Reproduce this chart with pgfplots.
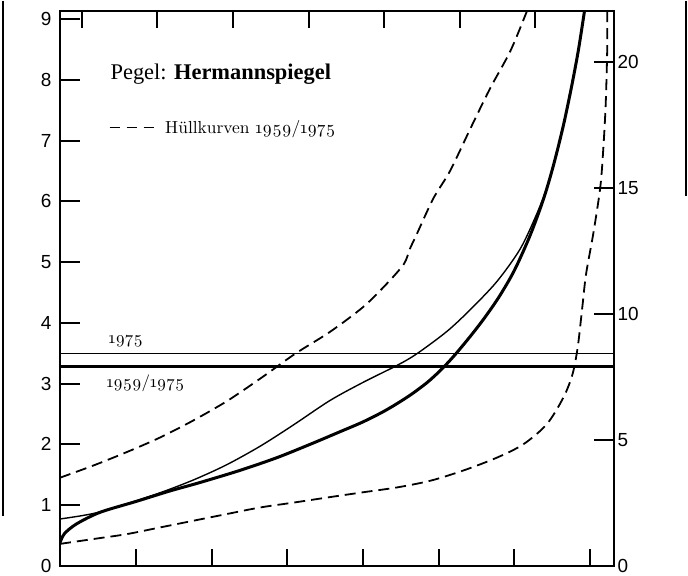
\documentclass[border=0pt]{standalone}
\usepackage{fontspec}
\usepackage{pgfplots}
\pgfplotsset{compat=1.18}

\newfontfamily\tickfont{Liberation Sans}
\newfontfamily\titlefont{Liberation Serif}
\newfontfamily\osfont{lmroman10-regular.otf}[Numbers=OldStyle]

% Thick curve: 1959/1975
\pgfplotstableread{
x y
-0.01 0.38
0.05 0.53
0.21 0.69
0.52 0.88
1.00 1.06
1.44 1.23
1.84 1.37
2.37 1.57
2.86 1.78
3.30 2.00
3.70 2.21
4.00 2.37
4.30 2.56
4.60 2.79
4.85 3.02
5.05 3.25
5.22 3.48
5.42 3.78
5.60 4.07
5.80 4.43
6.00 4.86
6.21 5.44
6.39 6.05
6.52 6.60
6.65 7.25
6.76 7.90
6.85 8.50
6.93 9.14
}\thickcurve

% Thin curve: 1975
\pgfplotstableread{
x y
-0.01 0.77
0.43 0.86
0.87 1.02
1.31 1.20
1.75 1.41
2.19 1.66
2.64 1.97
3.08 2.32
3.56 2.72
4.00 3.02
4.45 3.30
4.71 3.49
5.11 3.86
5.42 4.22
5.77 4.68
6.08 5.22
6.30 5.80
6.43 6.22
6.52 6.60
}\thincurve

% Upper envelope
\pgfplotstableread{
x y
-0.01 1.45
0.43 1.65
0.87 1.87
1.31 2.11
1.75 2.39
2.21 2.72
2.66 3.10
3.10 3.49
3.56 3.85
4.00 4.26
4.31 4.64
4.54 4.97
4.62 5.22
4.71 5.46
4.93 6.05
5.15 6.50
5.42 7.20
5.68 7.86
5.95 8.48
6.17 9.14
}\upperenv

% Lower envelope
\pgfplotstableread{
x y
-0.01 0.36
0.43 0.44
0.87 0.52
1.31 0.63
1.75 0.74
2.19 0.85
2.64 0.96
3.08 1.04
3.56 1.13
4.00 1.21
4.45 1.29
4.89 1.40
5.33 1.57
5.77 1.78
6.12 2.00
6.43 2.33
6.65 2.77
6.77 3.15
6.84 3.60
6.90 4.25
6.95 4.80
7.05 5.50
7.14 6.25
7.18 6.90
7.21 7.60
7.23 8.50
7.23 9.14
}\lowerenv

\begin{document}
\begin{tikzpicture}
\pgfplotsset{
  frame/.style={
    at={(0,0)}, anchor=south west, scale only axis,
    width=554bp, height=555bp,
    xmin=-0.01, xmax=7.32,
    axis line style={line width=2bp},
    tick align=inside,
    tick style={line width=2bp, black},
    /pgf/number format/assume math mode=true,
    ticklabel style={font=\tickfont\fontsize{19}{19}\selectfont},
    xticklabels={},
    xtick style={/pgfplots/major tick length=17bp},
    ytick style={/pgfplots/major tick length=20bp},
  },
}
\begin{axis}[frame, name=main,
  ymin=0, ymax=9.14,
  xtick={1,...,7}, xtick pos=left,
  ytick={0,...,9}, ytick pos=left,
  yticklabel style={xshift=-5bp},
  legend style={at={(0.088,0.789)}, anchor=west, draw=none, fill=none,
    inner sep=0pt, column sep=8bp,
    font=\osfont\fontsize{17.5}{17.5}\selectfont},
  legend cell align=left,
  legend image code/.code={
    \draw[line width=1.3bp, dash pattern=on 10bp off 7bp] (0bp,0bp) -- (45bp,0bp);},
]
% reference levels
\addplot[line width=1.3bp, forget plot] coordinates {(-0.01,3.49) (7.32,3.49)};
\addplot[line width=3.5bp, forget plot] coordinates {(-0.01,3.28) (7.32,3.28)};

% envelopes
\addplot[line width=1.8bp, dash pattern=on 11bp off 6bp, smooth, tension=0.5]
  table {\upperenv};
\addlegendentry{Hüllkurven 1959/1975}
\addplot[line width=1.8bp, dash pattern=on 11bp off 6bp, smooth, tension=0.5, forget plot]
  table {\lowerenv};

% stage curves
\addplot[line width=1.4bp, smooth, tension=0.5, forget plot] table {\thincurve};
\addplot[line width=3bp, smooth, tension=0.5, forget plot] table {\thickcurve};

\node[anchor=base west, font=\titlefont\fontsize{22.5}{22.5}\selectfont]
  at (rel axis cs:0.085,0.876) {Pegel: \textbf{Hermannspiegel}};
\node[font=\osfont\fontsize{17}{17}\selectfont] at (axis cs:0.86,3.69) {1975};
\node[font=\osfont\fontsize{17}{17}\selectfont] at (axis cs:1.12,3.00) {1959/1975};
\end{axis}

\begin{axis}[frame,
  ymin=0, ymax=22.02,
  axis x line*=top, axis y line*=right,
  xtick={0.28,1.28,2.28,3.28,4.28,5.28,6.28},
  ytick={0,5,10,15,20},
  yticklabel style={xshift=0bp},
]
\end{axis}

% border of the plate
\draw[line width=1.5bp] (-57bp,565bp) -- (-57bp,50bp);
\draw[line width=1.5bp] (626bp,565bp) -- (626bp,370bp);
\path (-60bp,-8bp) rectangle (628bp,565bp);
\end{tikzpicture}
\end{document}
